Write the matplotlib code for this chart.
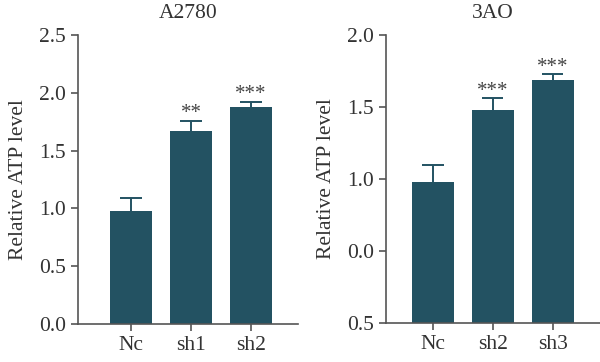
import numpy as np
import matplotlib as mpl
mpl.use('Agg')
import matplotlib.pyplot as plt
from matplotlib import rcParams

rcParams['font.family'] = ['Liberation Serif', 'DejaVu Serif']
rcParams['font.size'] = 15.5

# panel A2780
cats_a = ['Nc', 'sh1', 'sh2']
vals_a = [0.977, 1.673, 1.875]
errs_a = [0.117, 0.082, 0.049]
stars_a = ['', '**', '***']
yt_a = [0.0, 0.5, 1.0, 1.5, 2.0, 2.5]
ytl_a = ['0.0', '0.5', '1.0', '1.5', '2.0', '2.5']

# panel 3AO (tick labels as printed in the original)
cats_b = ['Nc', 'sh2', 'sh3']
vals_b = [0.98, 1.48, 1.685]
errs_b = [0.12, 0.08, 0.045]
stars_b = ['', '***', '***']
yt_b = [0.0, 0.5, 1.0, 1.5, 2.0]
ytl_b = ['0.5', '0.0', '1.0', '1.5', '2.0']

barcol = '#235262'
txtcol = '#333333'
axcol = '#555555'

fig = plt.figure(figsize=(6, 3.62), dpi=100)
ax1 = fig.add_axes([78/600, 38/362, 220/600, 289/362])
ax2 = fig.add_axes([386/600, 39/362, 214/600, 288/362])

def panel(ax, cats, vals, errs, stars, yt, ytl, title, xlim):
    x = np.arange(len(cats))
    vals = np.array(vals)
    errs = np.array(errs)
    ax.bar(x, vals, width=0.7, color=barcol, zorder=2)
    # upper error bars only
    ax.vlines(x, vals, vals + errs, color=barcol, lw=1.4, zorder=3)
    ax.hlines(vals + errs, x - 0.18, x + 0.18, color=barcol, lw=1.4, zorder=3)
    for xi, v, e, s in zip(x, vals, errs, stars):
        if s:
            ax.text(xi, v + e - 0.02, s, ha='center', va='bottom', fontsize=15, color='#444444')
    ax.set_xlim(xlim)
    ax.set_ylim(yt[0], yt[-1])
    ax.set_xticks(x)
    ax.set_xticklabels(cats, color=txtcol)
    ax.set_yticks(yt)
    ax.set_yticklabels(ytl, color=txtcol)
    ax.set_ylabel('Relative ATP level', color=txtcol, labelpad=8)
    ax.set_title(title, color=txtcol, fontsize=15.5, pad=12)
    ax.spines['top'].set_visible(False)
    ax.spines['right'].set_visible(False)
    for sp in ['left', 'bottom']:
        ax.spines[sp].set_color(axcol)
        ax.spines[sp].set_linewidth(1.2)
    ax.tick_params(color=axcol, width=1.2, length=5, labelsize=15.5)

panel(ax1, cats_a, vals_a, errs_a, stars_a, yt_a, ytl_a, 'A2780', (-0.883, 2.78))
panel(ax2, cats_b, vals_b, errs_b, stars_b, yt_b, ytl_b, '3AO', (-0.78, 2.79))

plt.savefig('out.png', dpi=100)
